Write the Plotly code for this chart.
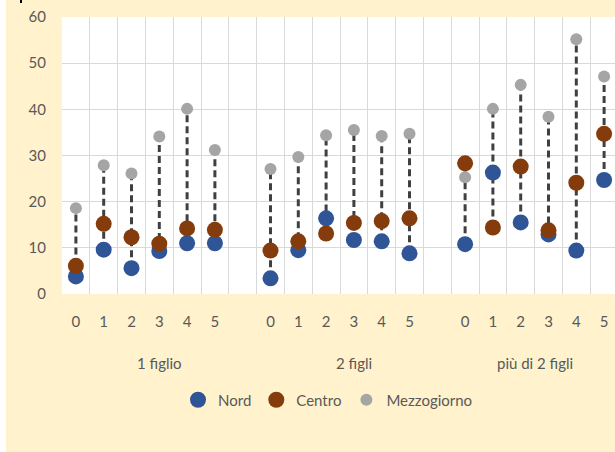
import plotly.graph_objects as go

# ---- data ----
positions = [0, 1, 2, 3, 4, 5, 7, 8, 9, 10, 11, 12, 14, 15, 16, 17, 18, 19]
tick_labels = ["0", "1", "2", "3", "4", "5"] * 3
groups = ["1 figlio", "2 figli", "più di 2 figli"]
group_centers = [3, 10, 16.5]

nord = [3.8, 9.6, 5.6, 9.3, 11.0, 11.0,
        3.4, 9.5, 16.4, 11.7, 11.4, 8.8,
        10.8, 26.3, 15.5, 12.9, 9.4, 24.7]
centro = [6.1, 15.2, 12.3, 10.9, 14.2, 13.9,
          9.4, 11.4, 13.1, 15.4, 15.8, 16.4,
          28.3, 14.4, 27.6, 13.8, 24.1, 34.7]
mezzogiorno = [18.6, 27.9, 26.1, 34.1, 40.1, 31.2,
               27.1, 29.7, 34.4, 35.5, 34.2, 34.7,
               25.3, 40.1, 45.3, 38.4, 55.2, 47.1]

# ---- layout geometry (px) ----
W, H = 615, 452
L, R, T, B = 62, 0, 17, 158
pw, ph = W - L - R, H - T - B
def px_x(x): return (x - L) / pw
def px_y(y): return (H - B - y) / ph

FONT = "Lato"
TXT = "#595959"

fig = go.Figure()

# connector dashed lines (min to max of each category)
lx, ly = [], []
for i, p in enumerate(positions):
    vals = [nord[i], centro[i], mezzogiorno[i]]
    lx += [p, p, None]
    ly += [min(vals), max(vals), None]
fig.add_trace(go.Scatter(x=lx, y=ly, mode="lines", showlegend=False, hoverinfo="skip",
                         line=dict(color="#404040", width=3, dash="7px,4px")))

fig.add_trace(go.Scatter(x=positions, y=nord, mode="markers", name="Nord",
                         marker=dict(color="#2F5597", size=16)))
fig.add_trace(go.Scatter(x=positions, y=centro, mode="markers", name="Centro",
                         marker=dict(color="#843C0C", size=16)))
fig.add_trace(go.Scatter(x=positions, y=mezzogiorno, mode="markers", name="Mezzogiorno",
                         marker=dict(color="#A5A5A5", size=12)))

for g, c in zip(groups, group_centers):
    fig.add_annotation(x=c, xref="x", y=px_y(363), yref="paper", text=g,
                       showarrow=False, yanchor="middle",
                       font=dict(family=FONT, size=15, color=TXT))

# white strip on the left edge and tiny cut-off title mark
fig.add_shape(type="rect", xref="paper", yref="paper",
              x0=px_x(-2), x1=px_x(6), y0=px_y(H + 2), y1=px_y(-2),
              fillcolor="white", line=dict(width=0), layer="below")
fig.add_shape(type="line", xref="paper", yref="paper",
              x0=px_x(21), x1=px_x(21), y0=px_y(0), y1=px_y(3),
              line=dict(color="black", width=2))

fig.update_layout(
    width=W, height=H,
    margin=dict(l=L, r=R, t=T, b=B),
    paper_bgcolor="#FFF2CC",
    plot_bgcolor="white",
    font=dict(family=FONT, size=15, color=TXT),
    legend=dict(orientation="h", x=px_x(328), xanchor="center",
                y=px_y(400), yanchor="middle",
                font=dict(family=FONT, size=15, color=TXT),
                bgcolor="rgba(0,0,0,0)"),
    xaxis=dict(range=[-0.5, 19.5 - 3 / 27.8], tickvals=positions, ticktext=tick_labels,
               showgrid=False, zeroline=False, showline=False,
               ticks="outside", ticklen=14, tickcolor="rgba(0,0,0,0)",
               tickfont=dict(family=FONT, size=15, color=TXT),
               minor=dict(tickvals=[i - 0.5 for i in range(21)], showgrid=True,
                          gridcolor="#D9D9D9", gridwidth=1, ticks="")),
    yaxis=dict(range=[0, 60], dtick=10, showgrid=True, gridcolor="#D9D9D9", gridwidth=1,
               zeroline=False, showline=False,
               ticks="outside", ticklen=12, tickcolor="rgba(0,0,0,0)",
               tickfont=dict(family=FONT, size=15, color=TXT)),
)

fig.write_html("out.html", config={"displayModeBar": False},
               post_script="document.body.style.margin='0';document.body.style.overflow='hidden';")
